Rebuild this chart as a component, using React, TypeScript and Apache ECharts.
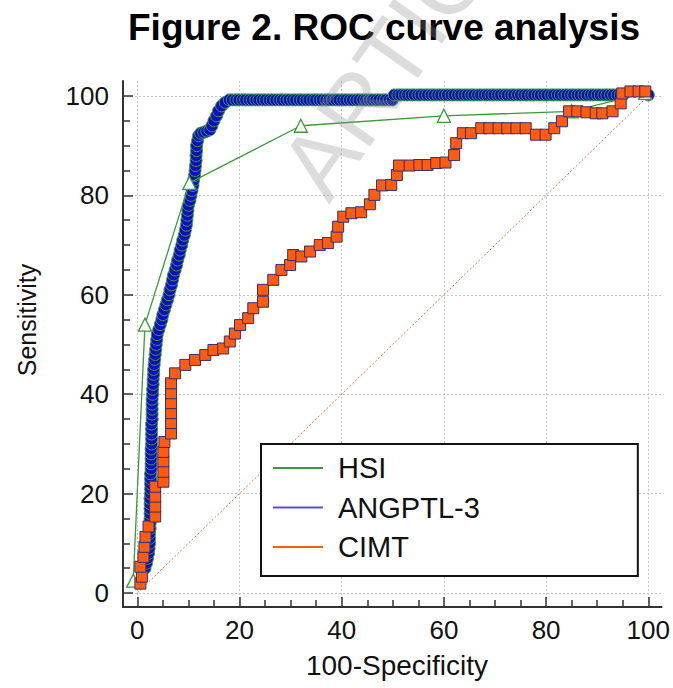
import React, { useEffect, useRef } from 'react';
import * as echarts from 'echarts';

const FONT = "'Liberation Sans', Arial, sans-serif";

const titleText = 'Figure 2. ROC curve analysis';
const xAxisTitle = '100-Specificity';
const yAxisTitle = 'Sensitivity';
const watermarkText = 'ARTICLE IN PRESS';

const majorTicks = [0, 20, 40, 60, 80, 100];
const minorTicks = [5, 10, 15, 25, 30, 35, 45, 50, 55, 65, 70, 75, 85, 90, 95];

const seriesNames = ['HSI', 'ANGPTL-3', 'CIMT'];

const hsiPoints: [number, number][] = [
  [-0.8, 2.5], [1.5, 54], [10.2, 82.5], [32, 94], [60, 96], [85, 96.9], [99.4, 100.6],
];

const angptlPoints: [number, number][] = [
  [1.5, 5], [1.8, 6], [2.0, 7], [2.2, 8], [2.3, 9],
  [2.4, 10], [2.4, 11], [2.4, 12], [2.5, 13], [2.5, 14], [2.5, 15], [2.5, 16], [2.5, 17], [2.5, 18], [2.5, 19],
  [2.6, 20], [2.6, 21], [2.6, 22], [2.6, 23], [2.6, 24], [2.7, 25], [2.7, 26], [2.7, 27], [2.7, 28], [2.7, 29],
  [2.8, 30], [2.8, 31], [2.8, 32], [2.8, 33], [2.8, 34], [2.9, 35], [2.9, 36], [2.9, 37], [2.9, 38], [2.9, 39],
  [3.0, 40], [3.0, 41], [3.1, 42], [3.1, 43], [3.2, 44], [3.2, 45], [3.3, 46], [3.4, 47], [3.5, 48], [3.6, 49],
  [3.7, 50], [3.8, 51], [3.9, 52], [4.2, 53], [4.5, 54], [4.8, 55], [5.0, 56], [5.3, 57], [5.6, 58], [5.9, 59],
  [6.2, 60], [6.4, 61], [6.7, 62], [6.9, 63], [7.1, 64], [7.4, 65], [7.7, 66], [7.9, 67], [8.2, 68], [8.4, 69],
  [8.7, 70], [8.9, 71], [9.2, 72], [9.4, 73], [9.6, 74], [9.7, 75], [9.8, 76], [9.9, 77], [10.0, 78], [10.3, 79],
  [10.5, 80], [10.7, 81], [10.9, 82], [11.0, 83], [11.2, 84], [11.3, 85], [11.4, 86], [11.5, 87], [11.5, 88], [11.6, 89],
  [11.6, 90], [11.8, 91], [12.0, 92], [12.4, 92.5], [13.0, 92.7], [13.6, 92.9], [14.2, 93.2], [14.6, 94], [15.0, 95], [15.5, 96],
  [15.9, 97], [16.5, 98], [17.2, 98.7], [18.0, 99.2],
  [18.6, 99.2], [19.3, 99.2], [19.9, 99.2], [20.6, 99.2], [21.2, 99.2], [21.9, 99.2], [22.5, 99.2], [23.2, 99.2], [23.8, 99.2], [24.5, 99.2],
  [25.1, 99.2], [25.8, 99.2], [26.4, 99.2], [27.1, 99.2], [27.8, 99.2], [28.4, 99.2], [29.1, 99.2], [29.7, 99.2], [30.4, 99.2], [31.0, 99.2],
  [31.7, 99.2], [32.3, 99.2], [33.0, 99.2], [33.6, 99.2], [34.3, 99.2], [34.9, 99.2], [35.6, 99.2], [36.2, 99.2], [36.9, 99.2], [37.5, 99.2],
  [38.2, 99.2], [38.9, 99.2], [39.5, 99.2], [40.2, 99.2], [40.8, 99.2], [41.5, 99.2], [42.1, 99.2], [42.8, 99.2], [43.4, 99.2], [44.1, 99.2],
  [44.7, 99.2], [45.4, 99.2], [46.0, 99.2], [46.7, 99.2], [47.3, 99.2], [48.0, 99.2], [48.6, 99.2], [49.3, 99.2], [49.9, 99.2],
  [50.3, 100.2], [51.0, 100.2], [51.6, 100.2], [52.3, 100.2], [52.9, 100.2], [53.6, 100.2], [54.2, 100.2], [54.9, 100.2], [55.5, 100.2], [56.2, 100.2],
  [56.8, 100.2], [57.5, 100.2], [58.1, 100.2], [58.8, 100.2], [59.4, 100.2], [60.1, 100.2], [60.7, 100.2], [61.4, 100.2], [62.0, 100.2], [62.7, 100.2],
  [63.3, 100.2], [64.0, 100.2], [64.6, 100.2], [65.3, 100.2], [65.9, 100.2], [66.6, 100.2], [67.2, 100.2], [67.9, 100.2], [68.5, 100.2], [69.2, 100.2],
  [69.8, 100.2], [70.5, 100.2], [71.1, 100.2], [71.8, 100.2], [72.4, 100.2], [73.1, 100.2], [73.7, 100.2], [74.4, 100.2], [75.0, 100.2], [75.7, 100.2],
  [76.3, 100.2], [77.0, 100.2], [77.6, 100.2], [78.3, 100.2], [78.9, 100.2], [79.6, 100.2], [80.2, 100.2], [80.9, 100.2], [81.5, 100.2], [82.2, 100.2],
  [82.8, 100.2], [83.5, 100.2], [84.1, 100.2], [84.8, 100.2], [85.4, 100.2], [86.1, 100.2], [86.7, 100.2], [87.4, 100.2], [88.0, 100.2], [88.7, 100.2],
  [89.3, 100.2], [90.0, 100.2], [90.6, 100.2], [91.3, 100.2], [91.9, 100.2], [92.6, 100.2], [93.2, 100.2], [93.9, 100.2], [94.5, 100.2], [95.0, 100.2],
  [100, 100.2],
];

const cimtPoints: [number, number][] = [
  [0.6, 1.9], [0.9, 3.3], [0.6, 5.3], [1.2, 7.3], [1.4, 9.3], [1.6, 11.3], [2.2, 13.4],
  [3.5, 15.4], [3.5, 17.4], [3.5, 19.4], [3.5, 21.4],
  [5.1, 22.4], [5.1, 24.4], [5.1, 26.5], [5.1, 28.4], [5.3, 30.4],
  [6.6, 32.1], [6.6, 34.2], [6.6, 36.2], [6.6, 38.2], [6.6, 40.2], [6.6, 42.2],
  [7.4, 44.2], [9.4, 45.9], [11.3, 46.9], [13.3, 47.9], [14.9, 48.9], [16.8, 49.2], [18.1, 50.6], [19.1, 52.2],
  [20.1, 53.9], [21.7, 55.3], [22.7, 57.3], [24.6, 58.6], [24.6, 61], [26.6, 63], [28.2, 65], [29.9, 66],
  [30.5, 68], [32.1, 67.7], [33.8, 68.7], [35.7, 70], [37.3, 70.4], [39, 71.7], [39.3, 73.7], [40.3, 75.7],
  [41.9, 76.4], [43.8, 76.6], [45.5, 78.2], [46.4, 80.1], [47.9, 82], [49.7, 82.1], [50.8, 84.1], [51.2, 86],
  [53.3, 86], [55.2, 86.1], [56.8, 86.1], [58.5, 86.5], [60.3, 86.6], [62, 88.1], [62.4, 90.5], [63.7, 92.5],
  [65.3, 92.5], [67.3, 93.5], [68.9, 93.5], [70.7, 93.5], [72.4, 93.5], [74.2, 93.5], [76, 93.5], [78, 92.2],
  [79.9, 92.2], [81.6, 93.5], [83.1, 94.9], [84.5, 96.9], [86.1, 96.9], [87.9, 96.7], [89.7, 96.5], [91, 96.5],
  [93, 96.9], [94.6, 98.5], [94.9, 100.5], [96.5, 100.9], [98.1, 100.9], [99.4, 100.9],
];

const diagonalPoints: [number, number][] = [[0, 0], [100, 100]];

const GREEN = '#3a9a3a';
const BLUE_LINE = '#5252d6';
const BLUE_FILL = '#1010b8';
const ORANGE = '#ff5c10';

export default function App() {
  const ref = useRef<HTMLDivElement>(null);

  useEffect(() => {
    if (!ref.current) return;
    const chart = echarts.init(ref.current, undefined, { renderer: 'svg' });

    const axisCommon = {
      type: 'value' as const,
      axisLine: { show: true, onZero: false, lineStyle: { color: '#333', width: 2 } },
      axisTick: { show: true, inside: true, length: 10, customValues: majorTicks, lineStyle: { color: '#333', width: 1.5 } },
      axisLabel: { show: true, customValues: majorTicks, fontSize: 26, color: '#111', fontFamily: FONT },
      splitLine: { show: true, lineStyle: { color: '#c4c4c4', width: 1, type: [2, 2] } },
    };
    const minorAxis = {
      type: 'value' as const,
      axisLine: { show: false, onZero: false },
      axisTick: { show: true, inside: true, length: 7, customValues: minorTicks, lineStyle: { color: '#333', width: 1.5 } },
      axisLabel: { show: false },
      splitLine: { show: false },
    };

    const legendItem = (name: string, color: string) => ({
      name,
      itemStyle: { color, borderColor: color, borderWidth: 0 },
    });

    chart.setOption({
      animation: false,
      backgroundColor: '#ffffff',
      title: {
        text: titleText,
        left: 128,
        top: 9,
        padding: 0,
        textStyle: { fontSize: 37, fontWeight: 'bold', color: '#000', fontFamily: FONT },
      },
      grid: { left: 123, right: 10, top: 81, bottom: 81, containLabel: false },
      xAxis: [
        { ...axisCommon, min: -2.8, max: 102.6, position: 'bottom', axisLabel: { ...axisCommon.axisLabel, margin: 10 } },
        { ...minorAxis, min: -2.8, max: 102.6, position: 'bottom' },
      ],
      yAxis: [
        { ...axisCommon, min: -2.8, max: 103, position: 'left', axisLabel: { ...axisCommon.axisLabel, margin: 14 } },
        { ...minorAxis, min: -2.8, max: 103, position: 'left' },
      ],
      legend: {
        orient: 'vertical',
        left: 261,
        top: 444,
        padding: [9, 158, 14, 12],
        itemWidth: 50,
        itemHeight: 2,
        itemGap: 9.5,
        icon: 'rect',
        backgroundColor: '#ffffff',
        borderColor: '#111',
        borderWidth: 2,
        borderRadius: 0,
        textStyle: { fontSize: 29, lineHeight: 30, color: '#111', fontFamily: FONT, padding: [0, 0, 0, 10] },
        data: [
          legendItem(seriesNames[0], GREEN),
          legendItem(seriesNames[1], BLUE_LINE),
          legendItem(seriesNames[2], ORANGE),
        ],
      },
      series: [
        {
          name: 'diagonal',
          type: 'line',
          data: diagonalPoints,
          symbol: 'none',
          silent: true,
          lineStyle: { color: '#e07a50', width: 1, type: [2, 2] },
          z: 1,
        },
        {
          name: seriesNames[1],
          type: 'line',
          data: angptlPoints,
          symbol: 'circle',
          symbolSize: 12,
          lineStyle: { color: BLUE_LINE, width: 1.2 },
          itemStyle: { color: BLUE_FILL, borderColor: '#3f9a55', borderWidth: 1 },
          z: 2,
        },
        {
          name: seriesNames[0],
          type: 'line',
          data: hsiPoints,
          symbol: 'triangle',
          symbolSize: 13,
          lineStyle: { color: GREEN, width: 1.3 },
          itemStyle: { color: '#ffffff', borderColor: GREEN, borderWidth: 1.3 },
          z: 3,
        },
        {
          name: seriesNames[2],
          type: 'line',
          data: cimtPoints,
          symbol: 'rect',
          symbolSize: 11,
          lineStyle: { color: ORANGE, width: 1 },
          itemStyle: { color: ORANGE, borderColor: '#3a2d6b', borderWidth: 1 },
          z: 4,
        },
      ],
      graphic: [
        {
          type: 'text',
          x: 27,
          y: 320,
          rotation: Math.PI / 2,
          style: { text: yAxisTitle, fontSize: 25, fill: '#111', fontFamily: FONT, align: 'center', verticalAlign: 'middle' },
        },
        {
          type: 'text',
          x: 397,
          y: 665,
          style: { text: xAxisTitle, fontSize: 28, fill: '#111', fontFamily: FONT, align: 'center', verticalAlign: 'middle' },
        },
        {
          type: 'text',
          x: 302,
          y: 186,
          rotation: (55 * Math.PI) / 180,
          z: 100,
          silent: true,
          style: { text: watermarkText, fontSize: 95, fill: 'rgba(140,140,140,0.3)', fontFamily: FONT, align: 'left', verticalAlign: 'middle' },
        },
      ],
    });

    return () => chart.dispose();
  }, []);

  return <div ref={ref} style={{ position: 'fixed', left: 0, top: 0, width: 673, height: 688 }} />;
}
